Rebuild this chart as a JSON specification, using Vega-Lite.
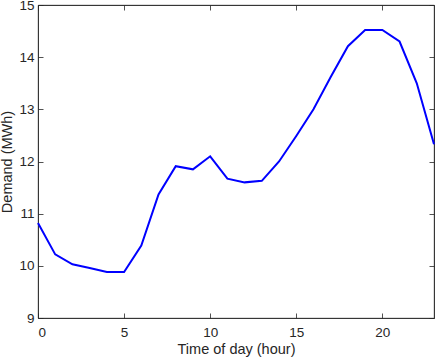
{
  "$schema": "https://vega.github.io/schema/vega-lite/v6.json",
  "autosize": "none",
  "padding": {"left": 38, "top": 5, "right": 2, "bottom": 41},
  "width": 396,
  "height": 313,
  "background": "white",
  "config": {
    "view": {"stroke": "#262626", "strokeWidth": 0.8},
    "font": "Liberation Sans",
    "axis": {
      "grid": false,
      "domainColor": "#262626",
      "domainWidth": 0.8,
      "tickColor": "#262626",
      "tickWidth": 0.8,
      "tickSize": -5,
      "labelFont": "Liberation Sans",
      "labelFontSize": 13.5,
      "labelColor": "#262626",
      "titleFont": "Liberation Sans",
      "titleFontSize": 14.5,
      "titleFontWeight": "normal",
      "titleColor": "#262626"
    }
  },
  "data": {"values": [
    {"hour": 0, "demand": 10.82},
    {"hour": 1, "demand": 10.22},
    {"hour": 2, "demand": 10.03},
    {"hour": 3, "demand": 9.96},
    {"hour": 4, "demand": 9.88},
    {"hour": 5, "demand": 9.88},
    {"hour": 6, "demand": 10.39},
    {"hour": 7, "demand": 11.37},
    {"hour": 8, "demand": 11.91},
    {"hour": 9, "demand": 11.85},
    {"hour": 10, "demand": 12.10},
    {"hour": 11, "demand": 11.67},
    {"hour": 12, "demand": 11.60},
    {"hour": 13, "demand": 11.63},
    {"hour": 14, "demand": 12.0},
    {"hour": 15, "demand": 12.49},
    {"hour": 16, "demand": 13.0},
    {"hour": 17, "demand": 13.62},
    {"hour": 18, "demand": 14.21},
    {"hour": 19, "demand": 14.52},
    {"hour": 20, "demand": 14.52},
    {"hour": 21, "demand": 14.30},
    {"hour": 22, "demand": 13.50},
    {"hour": 23, "demand": 12.33}
  ]},
  "layer": [
    {
      "mark": {"type": "point", "opacity": 0},
      "encoding": {
        "x": {"field": "hour", "type": "quantitative",
              "scale": {"domain": [0, 23], "nice": false, "zero": false},
              "axis": {"orient": "top", "values": [0, 5, 10, 15, 20], "labels": false, "title": null, "domain": true, "ticks": true}},
        "y": {"field": "demand", "type": "quantitative",
              "scale": {"domain": [9, 15], "nice": false, "zero": false},
              "axis": {"orient": "right", "values": [9, 10, 11, 12, 13, 14, 15], "labels": false, "title": null, "domain": true, "ticks": true}}
      }
    },
    {
      "mark": {"type": "line", "color": "#0000ff", "strokeWidth": 2},
      "encoding": {
        "x": {"field": "hour", "type": "quantitative",
              "axis": {"orient": "bottom", "values": [0, 5, 10, 15, 20], "title": "Time of day (hour)", "labelPadding": 12, "titlePadding": 4}},
        "y": {"field": "demand", "type": "quantitative",
              "axis": {"orient": "left", "values": [9, 10, 11, 12, 13, 14, 15], "title": "Demand (MWh)", "labelPadding": 9, "titlePadding": 4}}
      }
    }
  ],
  "resolve": {"axis": {"x": "independent", "y": "independent"}}
}
